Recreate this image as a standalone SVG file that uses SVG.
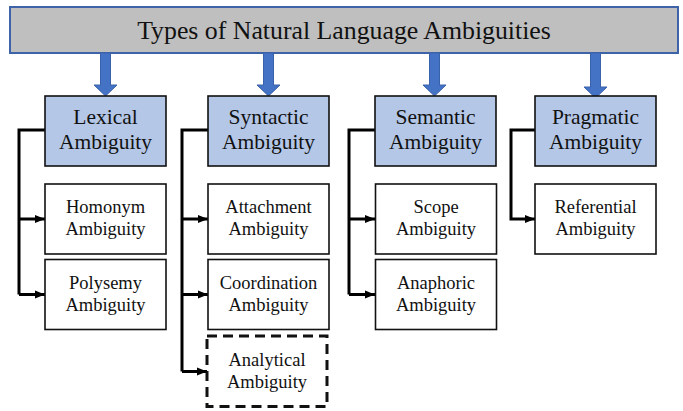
<svg xmlns="http://www.w3.org/2000/svg" width="683" height="411" viewBox="0 0 683 411">
<style>
text{font-family:'Liberation Serif','Times New Roman',Tinos,'DejaVu Serif',serif;fill:#111;text-anchor:middle}
.title{font-size:25.8px}
.p{font-size:21.5px}
.c{font-size:18.5px}
.pbox{fill:#b4c7e7;stroke:#111;stroke-width:1.6}
.cbox{fill:#fff;stroke:#111;stroke-width:1.6}
.dbox{fill:#fff;stroke:#111;stroke-width:3;stroke-dasharray:10 6}
.blue{fill:#4472c4;stroke:#3a62ab;stroke-width:1}
.line{fill:none;stroke:#000;stroke-width:3}
</style>
<defs>
<marker id="ah" markerUnits="userSpaceOnUse" markerWidth="10" markerHeight="10" viewBox="0 0 10 10" refX="10" refY="5" orient="auto">
<path d="M0,1 L10,5 L0,9 Z" fill="#000"/>
</marker>
</defs>
<g id="title">
<rect x="10" y="7" width="668" height="46" fill="#bfbfbf" stroke="#3f63a8" stroke-width="2"/>
<text class="title" x="344" y="39">Types of Natural Language Ambiguities</text>
</g>
<g id="blue-arrows">
<polygon class="blue" points="100.5,53 110.5,53 110.5,85 117,85 105.5,96 94,85 100.5,85"/>
<polygon class="blue" points="263.5,53 273.5,53 273.5,85 280,85 268.5,96 257,85 263.5,85"/>
<polygon class="blue" points="429.5,53 439.5,53 439.5,85 446,85 434.5,96 423,85 429.5,85"/>
<polygon class="blue" points="590.5,53 600.5,53 600.5,87 607,87 595.5,98 584,87 590.5,87"/>
</g>
<g id="connectors">
<path class="line" d="M45,130 H19 V294.5"/>
<path class="line" d="M19,219 H45" marker-end="url(#ah)"/>
<path class="line" d="M19,294.5 H45" marker-end="url(#ah)"/>
<path class="line" d="M208,130 H182 V371.5"/>
<path class="line" d="M182,219 H208" marker-end="url(#ah)"/>
<path class="line" d="M182,294.5 H208" marker-end="url(#ah)"/>
<path class="line" d="M182,371.5 H207" marker-end="url(#ah)"/>
<path class="line" d="M375,130 H349 V294.5"/>
<path class="line" d="M349,219 H375" marker-end="url(#ah)"/>
<path class="line" d="M349,294.5 H375" marker-end="url(#ah)"/>
<path class="line" d="M535,130 H511 V219 H535" marker-end="url(#ah)"/>
</g>
<g id="lexical">
<rect class="pbox" x="45" y="96" width="121" height="70"/>
<text class="p" x="105.5" y="124">Lexical</text>
<text class="p" x="105.5" y="149">Ambiguity</text>
</g>
<g id="syntactic">
<rect class="pbox" x="208" y="96" width="121" height="70"/>
<text class="p" x="268.5" y="124">Syntactic</text>
<text class="p" x="268.5" y="149">Ambiguity</text>
</g>
<g id="semantic">
<rect class="pbox" x="375" y="96" width="121" height="70"/>
<text class="p" x="435.5" y="124">Semantic</text>
<text class="p" x="435.5" y="149">Ambiguity</text>
</g>
<g id="pragmatic">
<rect class="pbox" x="535" y="96" width="121" height="70"/>
<text class="p" x="595.5" y="124">Pragmatic</text>
<text class="p" x="595.5" y="149">Ambiguity</text>
</g>
<g id="homonym">
<rect class="cbox" x="45" y="184" width="121" height="70"/>
<text class="c" x="105.5" y="213">Homonym</text>
<text class="c" x="105.5" y="235">Ambiguity</text>
</g>
<g id="polysemy">
<rect class="cbox" x="45" y="259.5" width="121" height="70"/>
<text class="c" x="105.5" y="288.5">Polysemy</text>
<text class="c" x="105.5" y="310.5">Ambiguity</text>
</g>
<g id="attachment">
<rect class="cbox" x="208" y="184" width="121" height="70"/>
<text class="c" x="268.5" y="213">Attachment</text>
<text class="c" x="268.5" y="235">Ambiguity</text>
</g>
<g id="coordination">
<rect class="cbox" x="208" y="259.5" width="121" height="70"/>
<text class="c" x="268.5" y="288.5">Coordination</text>
<text class="c" x="268.5" y="310.5">Ambiguity</text>
</g>
<g id="analytical">
<rect class="dbox" x="207" y="336" width="120" height="70.5"/>
<text class="c" x="267" y="365.5">Analytical</text>
<text class="c" x="267" y="387.5">Ambiguity</text>
</g>
<g id="scope">
<rect class="cbox" x="375.5" y="184" width="121" height="70"/>
<text class="c" x="436" y="213">Scope</text>
<text class="c" x="436" y="235">Ambiguity</text>
</g>
<g id="anaphoric">
<rect class="cbox" x="375.5" y="259.5" width="121" height="70"/>
<text class="c" x="436" y="288.5">Anaphoric</text>
<text class="c" x="436" y="310.5">Ambiguity</text>
</g>
<g id="referential">
<rect class="cbox" x="535" y="184" width="121" height="70"/>
<text class="c" x="595.5" y="213">Referential</text>
<text class="c" x="595.5" y="235">Ambiguity</text>
</g>
</svg>
